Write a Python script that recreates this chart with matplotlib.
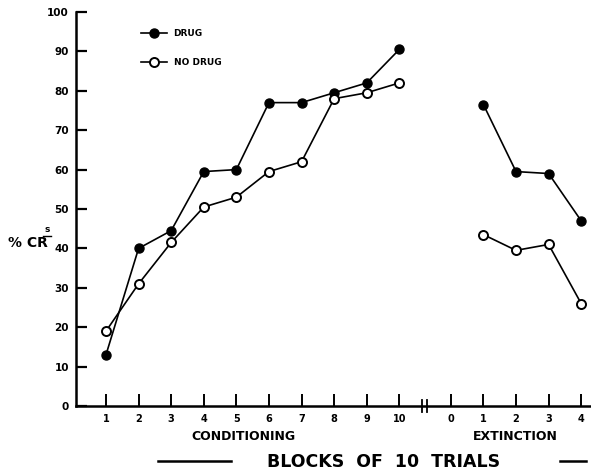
import matplotlib.pyplot as plt
from matplotlib.lines import Line2D
from matplotlib.legend_handler import HandlerLine2D

# block positions on the x axis (extinction blocks sit after the axis break)
cond_blocks = [1, 2, 3, 4, 5, 6, 7, 8, 9, 10]
ext_blocks = [1, 2, 3, 4]
ext_offset = 11.58

drug_cond = [13, 40, 44.5, 59.5, 60, 77, 77, 79.5, 82, 90.5]
nodrug_cond = [19, 31, 41.5, 50.5, 53, 59.5, 62, 78, 79.5, 82]
drug_ext = [76.5, 59.5, 59, 47]
nodrug_ext = [43.5, 39.5, 41, 26]

cond_labels = [str(b) for b in cond_blocks]
ext_labels = ['0', '1', '2', '3', '4']
y_ticks = [0, 10, 20, 30, 40, 50, 60, 70, 80, 90, 100]

plt.rcParams['font.family'] = 'DejaVu Sans'
plt.rcParams['font.weight'] = 'bold'

W, H = 591, 471
fig = plt.figure(figsize=(W / 100, H / 100), dpi=100)
ax = fig.add_axes([76 / W, 65 / H, 514 / W, 394 / H])

ext_x = [ext_offset + b for b in ext_blocks]

lw = 1.2
ms = 6.5
ax.plot(cond_blocks, drug_cond, '-o', color='black', lw=lw, ms=ms, mfc='black', mec='black', zorder=3)
ax.plot(cond_blocks, nodrug_cond, '-o', color='black', lw=lw, ms=ms, mfc='white', mec='black', mew=1.4, zorder=3)
ax.plot(ext_x, drug_ext, '-o', color='black', lw=lw, ms=ms, mfc='black', mec='black', zorder=3)
ax.plot(ext_x, nodrug_ext, '-o', color='black', lw=lw, ms=ms, mfc='white', mec='black', mew=1.4, zorder=3)

ax.set_xlim(0.08, 15.85)
ax.set_ylim(0, 100)

xticks = cond_blocks + [ext_offset + k for k in range(5)]
ax.set_xticks(xticks)
ax.set_xticklabels(cond_labels + ext_labels, fontsize=7, fontweight='bold')
ax.set_yticks(y_ticks)
ax.set_yticklabels([str(v) for v in y_ticks], fontsize=7.5, fontweight='bold')

ax.tick_params(axis='x', direction='in', length=9, width=1.4, pad=6)
ax.tick_params(axis='y', direction='in', length=8, width=1.6, pad=5)

for s in ['top', 'right']:
    ax.spines[s].set_visible(False)
for s in ['left', 'bottom']:
    ax.spines[s].set_linewidth(1.8)
ax.spines['left'].set_bounds(0, 100)

# axis break marks
brk = ax.get_xaxis_transform()
for bx in [10.70, 10.84]:
    ax.plot([bx, bx], [-0.014, 0.014], color='black', lw=1.3, transform=brk, clip_on=False)


class LeftMarker(HandlerLine2D):
    def get_xdata(self, legend, xdescent, ydescent, width, height, fontsize):
        return [-xdescent, -xdescent + width], [-xdescent]


h1 = Line2D([], [], color='black', lw=lw, marker='o', ms=ms, mfc='black', mec='black')
h2 = Line2D([], [], color='black', lw=lw, marker='o', ms=ms, mfc='white', mec='black', mew=1.4)
leg = ax.legend([h1, h2], ['DRUG', 'NO DRUG'], loc='upper left',
                bbox_to_anchor=(141 / W, (H - 29) / H), bbox_transform=fig.transFigure,
                frameon=False, numpoints=1, handlelength=2.9, handletextpad=0.7,
                labelspacing=2.25, borderpad=0, borderaxespad=0,
                prop={'size': 6.5, 'weight': 'bold'},
                handler_map={Line2D: LeftMarker()})

# axis label and group captions
fig.text(8 / W, 1 - 243 / H, '% CR', fontsize=10, fontweight='bold', ha='left', va='center')
fig.text(47 / W, 1 - 230 / H, 's', fontsize=6.5, fontweight='bold', ha='center', va='center')
fig.add_artist(Line2D([43 / W, 51 / W], [1 - 236 / H, 1 - 236 / H], color='black', lw=1.0))

fig.text(243 / W, 1 - 437 / H, 'CONDITIONING', fontsize=9, fontweight='bold', ha='center', va='center')
fig.text(515 / W, 1 - 437 / H, 'EXTINCTION', fontsize=9, fontweight='bold', ha='center', va='center')
fig.text(384 / W, 1 - 462 / H, 'BLOCKS  OF  10  TRIALS', fontsize=12.5, fontweight='bold',
         ha='center', va='center')
fig.add_artist(Line2D([158 / W, 231 / W], [1 - 461 / H, 1 - 461 / H], color='black', lw=1.8))
fig.add_artist(Line2D([560 / W, 586 / W], [1 - 461 / H, 1 - 461 / H], color='black', lw=1.8))

fig.savefig('out.png', dpi=100, facecolor='white')
